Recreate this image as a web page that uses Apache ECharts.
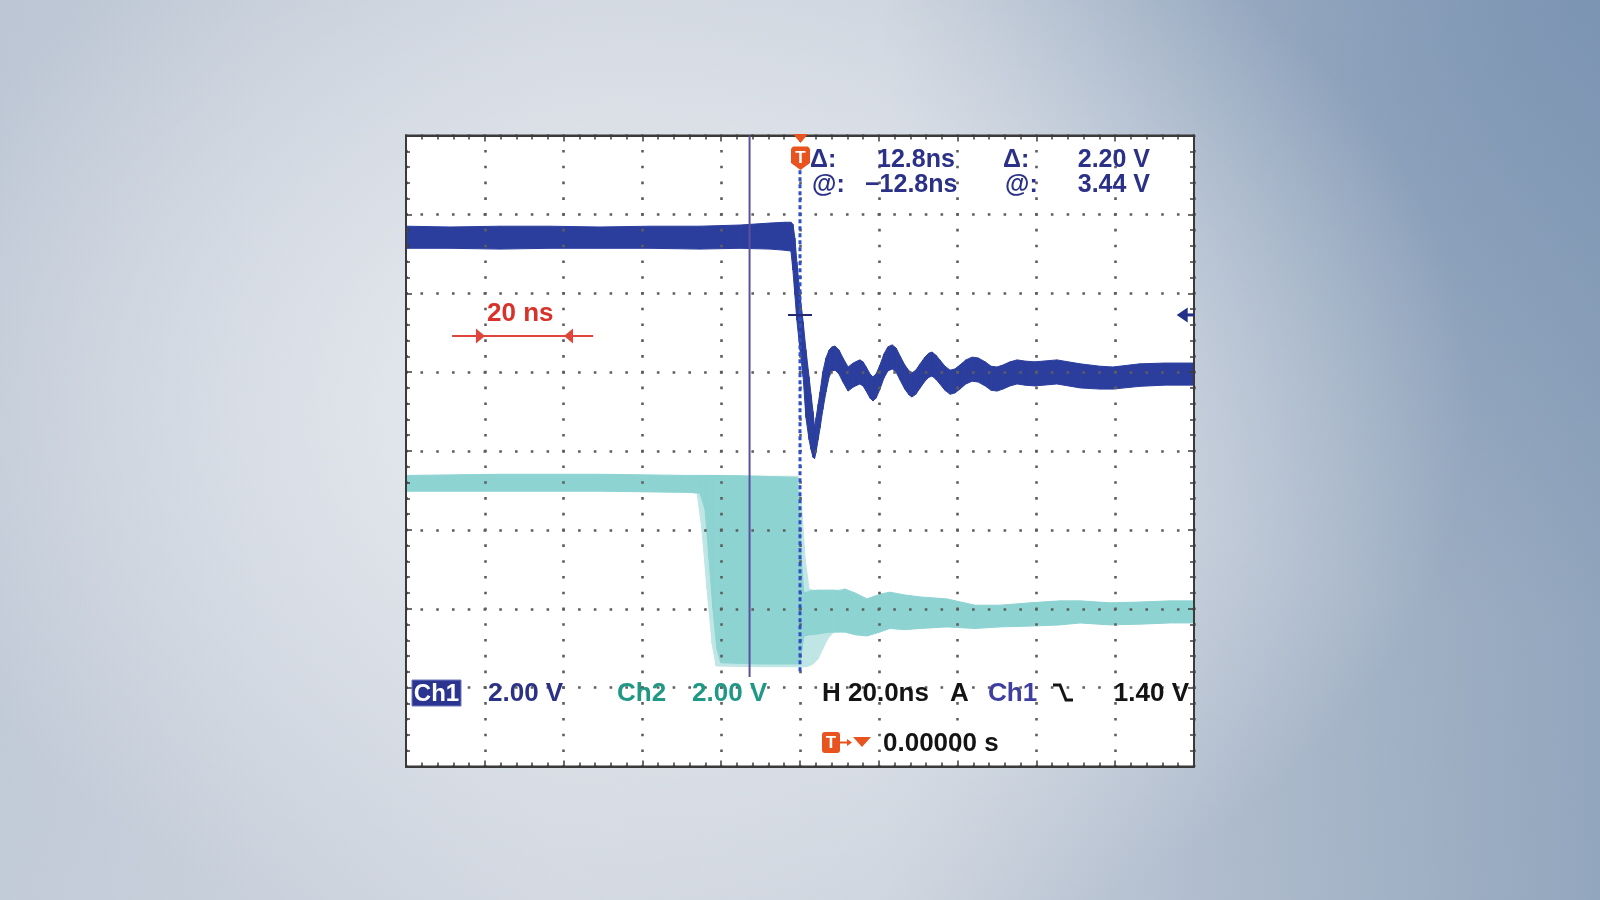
<!DOCTYPE html>
<html><head><meta charset="utf-8">
<script src="https://cdn.jsdelivr.net/npm/echarts@6/dist/echarts.min.js"></script>
<style>
html,body{margin:0;padding:0;width:1600px;height:900px;overflow:hidden;}
body{background:
 radial-gradient(ellipse 50% 65% at 42% 45%, rgba(232,235,240,1) 0%, rgba(228,232,238,0.85) 35%, rgba(220,225,232,0) 100%),
 radial-gradient(ellipse 45% 70% at 100% 0%, rgba(115,142,175,0.7) 0%, rgba(115,142,175,0) 100%),
 linear-gradient(180deg, rgba(120,140,165,0.08) 0%, rgba(120,140,165,0) 100%),
 linear-gradient(90deg, #c2cbd8 0%, #d0d6df 35%, #ccd3dd 55%, #adbacc 78%, #92a6bd 100%);}
#chart{width:1600px;height:900px;}
</style></head><body><div id="chart"></div>
<script>
// ---- Ch1 persistence band: time (ns), upper / lower envelope (V) ----
const ch1Time = [-100,-88.8,-76.1,-63.5,-50.8,-38.1,-25.4,-15.2,-7.6,-3.8,-2.3,-1.8,-1.3,-0.8,0,0.8,1.5,2.3,2.8,3.3,3.7,4.1,4.6,5.1,5.8,6.6,7.4,8.1,8.9,9.9,10.9,12.2,13.5,14.5,15.2,16.0,16.8,17.8,18.5,19.3,20.3,21.3,22.3,23.4,24.4,25.4,26.6,27.7,28.4,29.4,30.5,31.7,32.7,33.5,34.5,35.5,36.8,38.1,39.3,40.6,42.1,43.7,45.2,47.0,48.5,50.0,51.5,53.3,55.1,57.1,59.6,65.2,71.1,76.1,79.4,86.3,92.6,100];
const ch1Top  = [3.70,3.68,3.70,3.70,3.68,3.70,3.70,3.73,3.78,3.80,3.80,3.75,3.40,2.79,1.96,1.27,0.57,-0.12,-0.57,-1.00,-1.41,-1.15,-0.82,-0.50,0.01,0.36,0.56,0.64,0.66,0.56,0.36,0.13,0.23,0.28,0.31,0.26,0.13,-0.05,-0.12,-0.05,0.18,0.46,0.64,0.69,0.61,0.41,0.18,0.03,-0.02,0.05,0.21,0.38,0.48,0.51,0.43,0.31,0.15,0.05,0.08,0.18,0.31,0.38,0.36,0.26,0.15,0.13,0.18,0.26,0.31,0.28,0.26,0.31,0.21,0.15,0.13,0.21,0.23,0.23];
const ch1Bottom=[3.14,3.14,3.12,3.14,3.14,3.14,3.12,3.14,3.12,3.09,3.07,2.59,1.96,1.32,0.57,-0.12,-1.15,-1.71,-1.96,-2.16,-2.19,-2.01,-1.71,-1.41,-0.95,-0.50,-0.12,0.03,0.05,-0.05,-0.25,-0.48,-0.38,-0.33,-0.30,-0.35,-0.48,-0.66,-0.73,-0.66,-0.43,-0.15,0.03,0.08,0.00,-0.20,-0.43,-0.58,-0.63,-0.56,-0.40,-0.23,-0.13,-0.10,-0.18,-0.30,-0.46,-0.56,-0.53,-0.43,-0.30,-0.23,-0.25,-0.35,-0.46,-0.48,-0.43,-0.35,-0.30,-0.33,-0.35,-0.30,-0.40,-0.43,-0.43,-0.36,-0.33,-0.33];

// ---- Ch2 dense persistence band ----
const ch2Time = [-100,-76.1,-50.8,-27.9,-25.4,-24.1,-23.1,-22.1,-21.1,-20.1,-10.2,-0.8,0,0.5,1.0,2.5,4.6,6.3,8.4,10.2,11.4,14.0,17.0,20.3,22.8,26.6,30.5,37.3,44.4,50.8,58.4,66.0,71.1,78.7,86.3,94.0,100];
const ch2Top  = [3.38,3.41,3.41,3.38,3.38,3.38,3.38,3.38,3.38,3.38,3.36,3.33,2.02,1.00,0.40,0.45,0.47,0.47,0.47,0.45,0.50,0.40,0.25,0.37,0.42,0.35,0.30,0.25,0.09,0.09,0.15,0.20,0.20,0.15,0.17,0.20,0.20];
const ch2Bottom=[2.98,2.98,2.98,2.95,2.93,2.52,1.26,0.00,-1.01,-1.37,-1.40,-1.40,-1.40,-1.01,-0.69,-0.66,-0.64,-0.61,-0.59,-0.59,-0.59,-0.66,-0.69,-0.59,-0.50,-0.53,-0.50,-0.46,-0.50,-0.46,-0.44,-0.41,-0.36,-0.41,-0.39,-0.36,-0.36];

// ---- Ch2 faint jitter envelope around the falling edge ----
const ch2JitterTime = [-27.9,-26.1,-24.9,-23.6,-22.3,-21.3,-10.2,-0.5,0.3,1.3,2.3,3.3,4.6,5.8,7.1,8.4,9.6,11.4];
const ch2JitterTop  = [3.38,3.38,3.38,3.38,3.38,3.38,3.36,3.36,2.77,1.26,0.50,0.47,0.47,0.47,0.47,0.47,0.47,0.50];
const ch2JitterBottom=[2.95,2.93,2.02,0.50,-0.89,-1.45,-1.47,-1.47,-1.47,-1.47,-1.45,-1.40,-1.27,-1.01,-0.75,-0.61,-0.59,-0.59];

// ---- cursors / trigger (time ns, Ch1 volts) ----
const cursor1Line = [[-12.8, 6], [-12.8, -7.73]];
const triggerLine = [[0, 5.12], [0, -7.63]];
const crossHair   = [[-3.05, 1.45], [3.05, 1.45]];
const triggerArrowShaft = [[97.5, 1.45], [100, 1.45]];
const triggerArrowHead  = [[97.0, 1.45]];
const scaleBarLine = [[-88.3, 0.915], [-52.5, 0.915]];
const scaleBarLeftHead  = [[-81.1, 0.915]];
const scaleBarRightHead = [[-58.75, 0.915]];

// ---- readout texts ----
const readoutRow1 = ['Δ:', '12.8ns', 'Δ:', '2.20 V'];
const readoutRow2 = ['@:', '\u221212.8ns', '@:', '3.44 V'];
const statusRow1 = ['Ch1', '2.00 V', 'Ch2', '2.00 V', 'H 20.0ns', 'A', 'Ch1', '1.40 V'];
const statusRow2 = ['0.00000 s'];
const scaleBarText = '20 ns';

const NAVY = '#2b3187', TEAL = '#1f9886', BLACK = '#141414', RED = '#d8332b', ORANGE = '#e8531f';
const FONT = '"Liberation Sans", Arial, sans-serif';

function bandSeries(times, tops, bottoms, color, yAxisIndex, z) {
  const data = [];
  for (let i = 0; i < times.length - 1; i++) {
    data.push([times[i], tops[i], bottoms[i], times[i + 1], tops[i + 1], bottoms[i + 1]]);
  }
  return {
    type: 'custom', coordinateSystem: 'cartesian2d', xAxisIndex: 0, yAxisIndex: yAxisIndex,
    z: z, silent: true, animation: false,
    encode: { x: [0, 3], y: [1, 2, 4, 5] },
    renderItem: function (params, api) {
      const a = api.coord([api.value(0), api.value(1)]);
      const b = api.coord([api.value(3), api.value(4)]);
      const c = api.coord([api.value(3), api.value(5)]);
      const d = api.coord([api.value(0), api.value(2)]);
      return { type: 'polygon', shape: { points: [a, b, c, d] }, style: { fill: color, stroke: color, lineWidth: 1 } };
    },
    data: data
  };
}
function lineSeries(data, color, width, type, z) {
  return { type: 'line', data: data, xAxisIndex: 0, yAxisIndex: 0, symbol: 'none', silent: true,
    animation: false, z: z || 6, lineStyle: { color: color, width: width, type: type || 'solid' } };
}
function headSeries(data, color, rotate, size) {
  return { type: 'scatter', data: data, xAxisIndex: 0, yAxisIndex: 0, symbol: 'triangle', symbolSize: size,
    symbolRotate: rotate, silent: true, animation: false, z: 7, itemStyle: { color: color, opacity: 1 } };
}
function txt(text, x, y, color, size, align) {
  return { type: 'text', x: x, y: y, z: 20, silent: true,
    style: { text: text, fill: color, font: 'bold ' + size + 'px ' + FONT,
      textAlign: align || 'left', textVerticalAlign: 'middle', align: align || 'left', verticalAlign: 'middle' } };
}

const tickStyle = { color: '#3c3c3c', width: 1.5 };
const baseAxis = {
  type: 'value', z: 5, axisLabel: { show: false },
  axisLine: { show: true, onZero: false, lineStyle: { color: '#3a3a3a', width: 2 } },
  axisTick: { show: true, inside: true, length: 6, lineStyle: tickStyle },
  minorTick: { show: true, splitNumber: 5, length: 4, lineStyle: tickStyle }
};

const option = {
  animation: false,
  backgroundColor: 'transparent',
  grid: { left: 406, top: 135.5, width: 788, height: 631, show: true, backgroundColor: '#ffffff',
    borderColor: '#3a3a3a', borderWidth: 2, containLabel: false, outerBoundsMode: 'none' },
  xAxis: [
    Object.assign({}, baseAxis, { min: -100, max: 100, interval: 20, position: 'bottom',
      splitLine: { show: true, lineStyle: { color: '#5e5e5e', width: 2.6, type: [2.6, 13.175], dashOffset: 1.3 } } }),
    Object.assign({}, baseAxis, { min: -100, max: 100, interval: 20, position: 'top', splitLine: { show: false } })
  ],
  yAxis: [
    Object.assign({}, baseAxis, { min: -10, max: 6, interval: 2, position: 'left',
      splitLine: { show: true, lineStyle: { color: '#5e5e5e', width: 2.6, type: [2.6, 13.16], dashOffset: 1.3 } } }),
    Object.assign({}, baseAxis, { min: -4, max: 12, interval: 2, position: 'right', splitLine: { show: false } })
  ],
  series: [
    bandSeries(ch2JitterTime, ch2JitterTop, ch2JitterBottom, '#bfe6e5', 1, 2),
    bandSeries(ch2Time, ch2Top, ch2Bottom, '#8dd3d2', 1, 3),
    bandSeries(ch1Time, ch1Top, ch1Bottom, '#2b3e9d', 0, 4),
    lineSeries(cursor1Line, '#5c4f9e', 2),
    lineSeries(triggerLine, '#2f50c4', 3, [4, 3]),
    lineSeries(crossHair, '#262a6e', 2),
    lineSeries(triggerArrowShaft, '#23308a', 3),
    headSeries(triggerArrowHead, '#23308a', 90, [15, 11]),
    lineSeries(scaleBarLine, '#e0453c', 2),
    headSeries(scaleBarLeftHead, '#e0453c', -90, [15, 9]),
    headSeries(scaleBarRightHead, '#e0453c', 90, [15, 9])
  ],
  graphic: [
    // trigger position marker (top)
    { type: 'polygon', z: 20, silent: true, shape: { points: [[793, 134], [808, 134], [800.5, 143]] }, style: { fill: ORANGE } },
    { type: 'polygon', z: 20, silent: true, shape: { points: [[791, 149], [793, 146.5], [808, 146.5], [810, 149], [810, 163], [800.5, 170], [791, 163]] }, style: { fill: ORANGE } },
    txt('T', 800.5, 158, '#ffffff', 17, 'center'),
    // cursor readouts
    txt(readoutRow1[0], 810, 160, NAVY, 25),
    txt(readoutRow1[1], 877, 160, NAVY, 25),
    txt(readoutRow1[2], 1003, 160, NAVY, 25),
    txt(readoutRow1[3], 1150, 160, NAVY, 25, 'right'),
    txt(readoutRow2[0], 812, 185, NAVY, 25),
    txt(readoutRow2[1], 865, 185, NAVY, 25),
    txt(readoutRow2[2], 1005, 185, NAVY, 25),
    txt(readoutRow2[3], 1150, 185, NAVY, 25, 'right'),
    // scale bar label
    txt(scaleBarText, 487, 314, RED, 26),
    // status row 1
    { type: 'rect', z: 19, silent: true, shape: { x: 412, y: 680, width: 49, height: 26 }, style: { fill: '#2b3590', stroke: '#7079c2', lineWidth: 1 } },
    txt(statusRow1[0], 436.5, 694, '#ffffff', 24, 'center'),
    txt(statusRow1[1], 488, 694, NAVY, 26),
    txt(statusRow1[2], 617, 694, TEAL, 26),
    txt(statusRow1[3], 692, 694, TEAL, 26),
    txt(statusRow1[4], 822, 694, BLACK, 26),
    txt(statusRow1[5], 950, 694, BLACK, 26),
    txt(statusRow1[6], 988, 694, '#3e3fa0', 26),
    { type: 'polyline', z: 20, silent: true, shape: { points: [[1053, 685], [1060, 685], [1066, 700], [1073, 700]] }, style: { stroke: BLACK, lineWidth: 3, fill: null } },
    txt(statusRow1[7], 1189, 694, BLACK, 26, 'right'),
    // status row 2
    { type: 'rect', z: 19, silent: true, shape: { x: 822, y: 732, width: 18, height: 21, r: 3 }, style: { fill: ORANGE } },
    txt('T', 831, 743, '#ffffff', 17, 'center'),
    { type: 'line', z: 19, silent: true, shape: { x1: 840, y1: 742.5, x2: 849, y2: 742.5 }, style: { stroke: ORANGE, lineWidth: 2 } },
    { type: 'polygon', z: 19, silent: true, shape: { points: [[847, 739], [852, 742.5], [847, 746]] }, style: { fill: ORANGE } },
    { type: 'polygon', z: 19, silent: true, shape: { points: [[853, 737], [871, 737], [862, 747]] }, style: { fill: ORANGE } },
    txt(statusRow2[0], 883, 744, BLACK, 26)
  ]
};
const chart = echarts.init(document.getElementById('chart'));
chart.setOption(option);
</script>
</body></html>
